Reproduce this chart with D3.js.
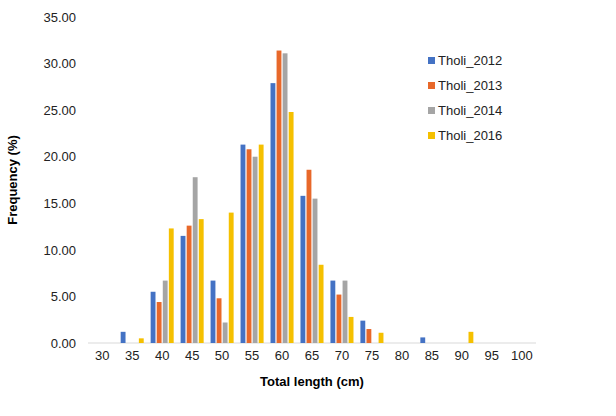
<!DOCTYPE html>
<html><head><meta charset="utf-8">
<script src="https://cdn.jsdelivr.net/npm/d3@7"></script>
<style>body{margin:0;background:#fff}text{font-family:Arial,"Liberation Sans",sans-serif}</style>
</head><body><div id="chart"></div>
<script>
var categories = ["30","35","40","45","50","55","60","65","70","75","80","85","90","95","100"]
var seriesNames = ["Tholi_2012","Tholi_2013","Tholi_2014","Tholi_2016"]
var colors = ["#4472c4","#e8682a","#a5a5a5","#f5c000"]
var tholi2012 = [0,1.2,5.5,11.5,6.7,21.3,27.9,15.8,6.7,2.4,0,0.6,0,0,0]
var tholi2013 = [0,0,4.4,12.6,4.8,20.8,31.4,18.6,5.2,1.5,0,0,0,0,0]
var tholi2014 = [0,0,6.7,17.8,2.2,20.0,31.1,15.5,6.7,0,0,0,0,0,0]
var tholi2016 = [0,0.5,12.3,13.3,14.0,21.3,24.8,8.4,2.8,1.1,0,0,1.2,0,0]
var yTicks = [0,5,10,15,20,25,30,35]

var series = [tholi2012, tholi2013, tholi2014, tholi2016]
var margin = {top: 17, right: 80, bottom: 73, left: 88},
    width = 616 - margin.left - margin.right,
    height = 416 - margin.top - margin.bottom

var svg = d3.select("#chart").append("svg")
    .attr("width", 616).attr("height", 416)
  .append("g")
    .attr("transform", "translate(" + margin.left + "," + margin.top + ")")

var x = d3.scaleBand().domain(categories).range([0, width]).paddingInner(0.15).paddingOuter(0.05)
var x1 = d3.scaleBand().domain(d3.range(4)).range([0, x.bandwidth()]).padding(0.2)
var y = d3.scaleLinear().domain([0, 35]).range([height, 0])

svg.append("g")
    .call(d3.axisLeft(y).tickValues(yTicks).tickFormat(d3.format(".2f")).tickSize(0).tickPadding(12))
    .call(g => g.select(".domain").remove())
    .selectAll("text").attr("font-size", 13).attr("fill", "#222")

svg.append("line").attr("x1", 0).attr("x2", width).attr("y1", height).attr("y2", height)
    .attr("stroke", "#d9d9d9")

series.forEach(function(vals, i) {
    svg.selectAll(".b" + i).data(vals).enter().append("rect")
        .attr("x", (d, j) => x(categories[j]) + x1(i))
        .attr("width", x1.bandwidth())
        .attr("y", d => y(d))
        .attr("height", d => height - y(d))
        .attr("fill", colors[i])
})

svg.append("g").attr("transform", "translate(0," + height + ")")
    .call(d3.axisBottom(x).tickSize(0).tickPadding(8))
    .call(g => g.select(".domain").remove())
    .selectAll("text").attr("font-size", 13).attr("fill", "#222")

svg.append("text").attr("x", width / 2).attr("y", height + 43)
    .attr("text-anchor", "middle").attr("font-size", 13).attr("font-weight", "bold")
    .text("Total length (cm)")

svg.append("text").attr("transform", "rotate(-90)")
    .attr("x", -height / 2).attr("y", -71)
    .attr("text-anchor", "middle").attr("font-size", 13).attr("font-weight", "bold")
    .text("Frequency (%)")

var legend = svg.selectAll(".lg").data(seriesNames).enter().append("g")
    .attr("transform", (d, i) => "translate(340," + (46 + i * 25) + ")")
legend.append("rect").attr("width", 7).attr("height", 7).attr("y", -6).attr("fill", (d, i) => colors[i])
legend.append("text").attr("x", 10).attr("y", 2).attr("font-size", 13).attr("fill", "#222").text(d => d)
</script></body></html>
